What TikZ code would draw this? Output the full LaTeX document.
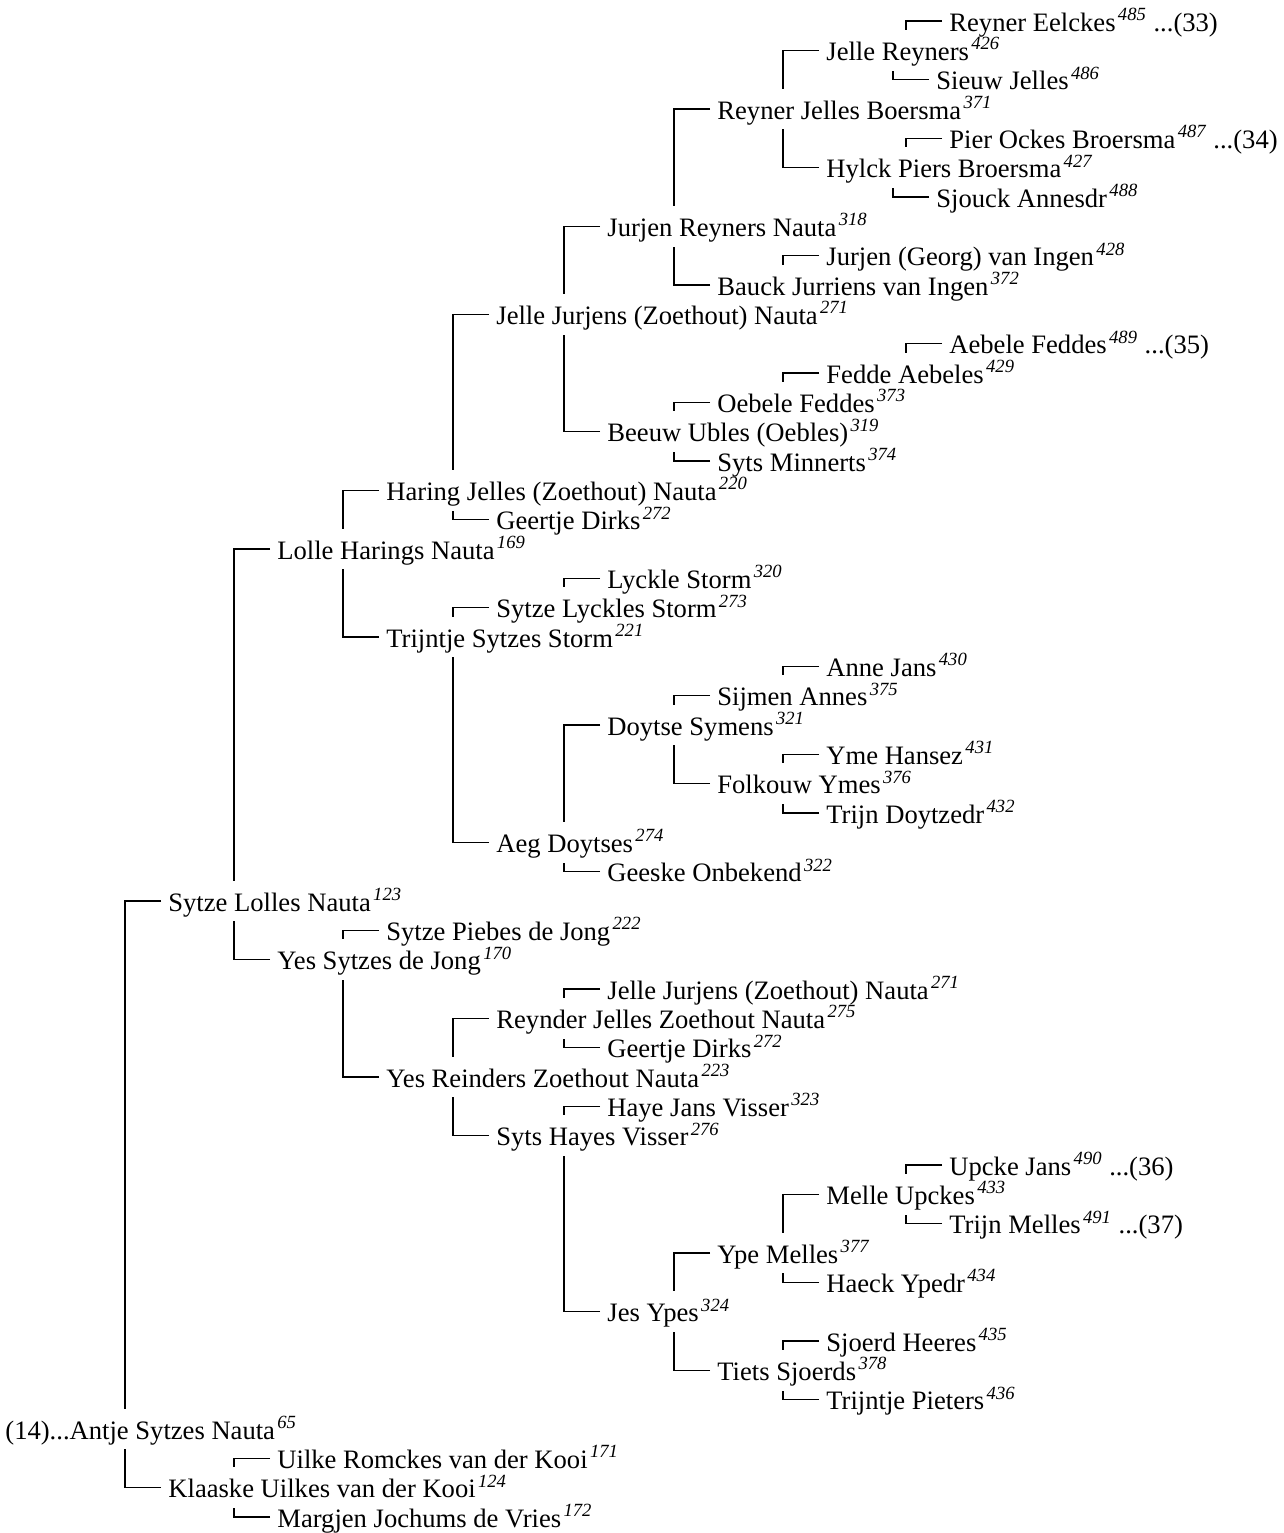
\documentclass[tikz,border=0pt]{standalone}
\usepackage{fontspec}
\setmainfont{Liberation Serif}
\usepackage{tikz}
\usetikzlibrary{calc}
\newcommand{\gen}[1]{\kern1.2pt\textsuperscript{\itshape #1}}
\tikzset{%
    person/.style={anchor=west, inner sep=0pt, text height=15pt, text depth=5pt,
        font=\fontsize{13.3}{15}\selectfont},
    link/.style={line width=0.6pt}
}
% father above the child, mother below
\newcommand{\fa}[2]{\draw[link] ($(#2.west)+(-7,0)$) -| ($(#1.north -| #2.west)+(-43,0)$);}
\newcommand{\mo}[2]{\draw[link] ($(#2.west)+(-7,0)$) -| ($(#1.south -| #2.west)+(-43,0)$);}
\begin{document}
\begin{tikzpicture}[x=0.5pt,y=-0.5pt]
\useasboundingbox (0,0) rectangle (1284,1533);

\node[person] (p485) at (949,21) {Reyner Eelckes\gen{485} ...(33)};
\node[person] (p426) at (826,50.3) {Jelle Reyners\gen{426}};
\node[person] (p486) at (936,79.7) {Sieuw Jelles\gen{486}};
\node[person] (p371) at (717,109) {Reyner Jelles Boersma\gen{371}};
\node[person] (p487) at (949,138.3) {Pier Ockes Broersma\gen{487} ...(34)};
\node[person] (p427) at (826,167.7) {Hylck Piers Broersma\gen{427}};
\node[person] (p488) at (936,197) {Sjouck Annesdr\gen{488}};
\node[person] (p318) at (607,226.3) {Jurjen Reyners Nauta\gen{318}};
\node[person] (p428) at (826,255.7) {Jurjen (Georg) van Ingen\gen{428}};
\node[person] (p372) at (717,285) {Bauck Jurriens van Ingen\gen{372}};
\node[person] (p271) at (496,314.3) {Jelle Jurjens (Zoethout) Nauta\gen{271}};
\node[person] (p489) at (949,343.7) {Aebele Feddes\gen{489} ...(35)};
\node[person] (p429) at (826,373) {Fedde Aebeles\gen{429}};
\node[person] (p373) at (717,402.3) {Oebele Feddes\gen{373}};
\node[person] (p319) at (607,431.7) {Beeuw Ubles (Oebles)\gen{319}};
\node[person] (p374) at (717,461) {Syts Minnerts\gen{374}};
\node[person] (p220) at (386,490.3) {Haring Jelles (Zoethout) Nauta\gen{220}};
\node[person] (p272) at (496,519.7) {Geertje Dirks\gen{272}};
\node[person] (p169) at (277,549) {Lolle Harings Nauta\gen{169}};
\node[person] (p320) at (607,578.3) {Lyckle Storm\gen{320}};
\node[person] (p273) at (496,607.7) {Sytze Lyckles Storm\gen{273}};
\node[person] (p221) at (386,637) {Trijntje Sytzes Storm\gen{221}};
\node[person] (p430) at (826,666.3) {Anne Jans\gen{430}};
\node[person] (p375) at (717,695.7) {Sijmen Annes\gen{375}};
\node[person] (p321) at (607,725) {Doytse Symens\gen{321}};
\node[person] (p431) at (826,754.3) {Yme Hansez\gen{431}};
\node[person] (p376) at (717,783.7) {Folkouw Ymes\gen{376}};
\node[person] (p432) at (826,813) {Trijn Doytzedr\gen{432}};
\node[person] (p274) at (496,842.3) {Aeg Doytses\gen{274}};
\node[person] (p322) at (607,871.7) {Geeske Onbekend\gen{322}};
\node[person] (p123) at (168,901) {Sytze Lolles Nauta\gen{123}};
\node[person] (p222) at (386,930.3) {Sytze Piebes de Jong\gen{222}};
\node[person] (p170) at (277,959.7) {Yes Sytzes de Jong\gen{170}};
\node[person] (p271b) at (607,989) {Jelle Jurjens (Zoethout) Nauta\gen{271}};
\node[person] (p275) at (496,1018.3) {Reynder Jelles Zoethout Nauta\gen{275}};
\node[person] (p272b) at (607,1047.7) {Geertje Dirks\gen{272}};
\node[person] (p223) at (386,1077) {Yes Reinders Zoethout Nauta\gen{223}};
\node[person] (p323) at (607,1106.3) {Haye Jans Visser\gen{323}};
\node[person] (p276) at (496,1135.7) {Syts Hayes Visser\gen{276}};
\node[person] (p490) at (949,1165) {Upcke Jans\gen{490} ...(36)};
\node[person] (p433) at (826,1194.3) {Melle Upckes\gen{433}};
\node[person] (p491) at (949,1223.7) {Trijn Melles\gen{491} ...(37)};
\node[person] (p377) at (717,1253) {Ype Melles\gen{377}};
\node[person] (p434) at (826,1282.3) {Haeck Ypedr\gen{434}};
\node[person] (p324) at (607,1311.7) {Jes Ypes\gen{324}};
\node[person] (p435) at (826,1341) {Sjoerd Heeres\gen{435}};
\node[person] (p378) at (717,1370.3) {Tiets Sjoerds\gen{378}};
\node[person] (p436) at (826,1399.7) {Trijntje Pieters\gen{436}};
\node[person] (p65) at (5,1429) {(14)...Antje Sytzes Nauta\gen{65}};
\node[person] (p171) at (277,1458.3) {Uilke Romckes van der Kooi\gen{171}};
\node[person] (p124) at (168,1487.7) {Klaaske Uilkes van der Kooi\gen{124}};
\node[person] (p172) at (277,1517) {Margjen Jochums de Vries\gen{172}};

\fa{p65}{p123} \mo{p65}{p124}
\fa{p123}{p169} \mo{p123}{p170}
\fa{p169}{p220} \mo{p169}{p221}
\fa{p220}{p271} \mo{p220}{p272}
\fa{p271}{p318} \mo{p271}{p319}
\fa{p318}{p371} \mo{p318}{p372}
\fa{p371}{p426} \mo{p371}{p427}
\fa{p426}{p485} \mo{p426}{p486}
\fa{p427}{p487} \mo{p427}{p488}
\fa{p372}{p428}
\fa{p319}{p373} \mo{p319}{p374}
\fa{p373}{p429}
\fa{p429}{p489}
\fa{p221}{p273} \mo{p221}{p274}
\fa{p273}{p320}
\fa{p274}{p321} \mo{p274}{p322}
\fa{p321}{p375} \mo{p321}{p376}
\fa{p375}{p430}
\fa{p376}{p431} \mo{p376}{p432}
\fa{p170}{p222} \mo{p170}{p223}
\fa{p223}{p275} \mo{p223}{p276}
\fa{p275}{p271b} \mo{p275}{p272b}
\fa{p276}{p323} \mo{p276}{p324}
\fa{p324}{p377} \mo{p324}{p378}
\fa{p377}{p433} \mo{p377}{p434}
\fa{p433}{p490} \mo{p433}{p491}
\fa{p378}{p435} \mo{p378}{p436}
\fa{p124}{p171} \mo{p124}{p172}
\end{tikzpicture}
\end{document}
